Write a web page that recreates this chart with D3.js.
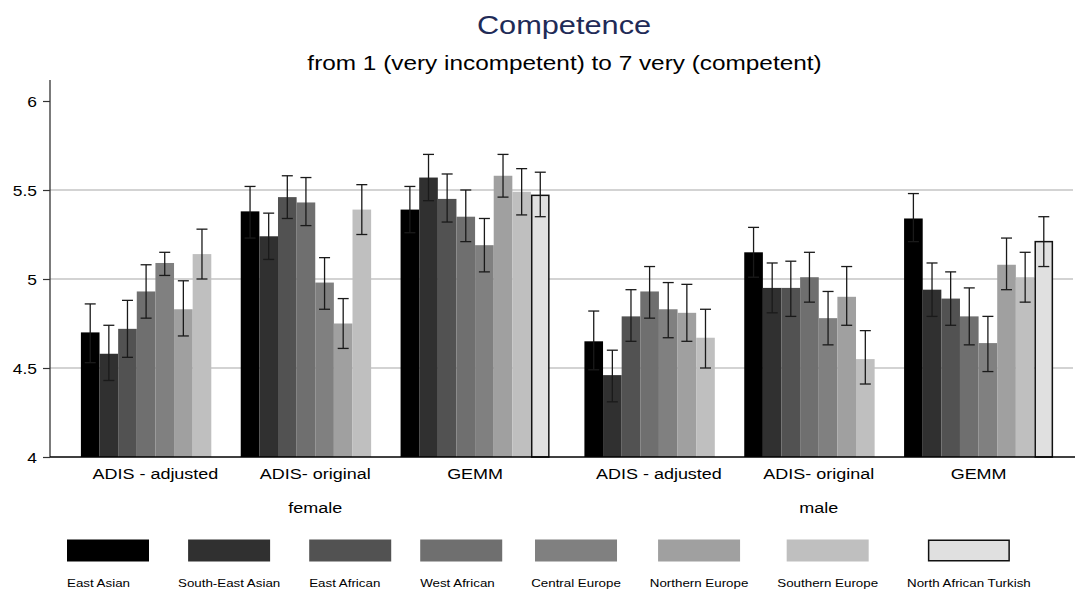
<!DOCTYPE html>
<html>
<head>
<meta charset="utf-8">
<script src="https://cdn.jsdelivr.net/npm/d3@7"></script>
<style>
  html, body { margin: 0; padding: 0; background: #fff; }
  svg { display: block; font-family: "Liberation Sans", Arial, sans-serif; }
</style>
</head>
<body>
<svg id="chart" width="1075" height="592"></svg>
<script>
// Outer grouping (sex), inner grouping (measure), and the regional series.
const sexes = ["female", "male"];
const measures = ["ADIS - adjusted", "ADIS- original", "GEMM"];
const seriesNames = ["East Asian", "South-East Asian", "East African", "West African",
                     "Central Europe", "Northern Europe", "Southern Europe", "North African Turkish"];
const seriesColors = ["#000000", "#303030", "#525252", "#6f6f6f", "#808080", "#a0a0a0", "#bfbfbf", "#e0e0e0"];

// Mean values, ordered: female adj, female orig, female GEMM, male adj, male orig, male GEMM
const meanEastAsian      = [4.70, 5.38, 5.39, 4.65, 5.15, 5.34];
const meanSouthEastAsian = [4.58, 5.24, 5.57, 4.46, 4.95, 4.94];
const meanEastAfrican    = [4.72, 5.46, 5.45, 4.79, 4.95, 4.89];
const meanWestAfrican    = [4.93, 5.43, 5.35, 4.93, 5.01, 4.79];
const meanCentralEurope  = [5.09, 4.98, 5.19, 4.83, 4.78, 4.64];
const meanNorthernEurope = [4.83, 4.75, 5.58, 4.81, 4.90, 5.08];
const meanSouthernEurope = [5.14, 5.39, 5.49, 4.67, 4.55, 5.01];
const meanNorthAfrTurk   = [null, null, 5.47, null, null, 5.21];

// Lower confidence limits
const loEastAsian      = [4.53, 5.23, 5.26, 4.49, 5.01, 5.21];
const loSouthEastAsian = [4.43, 5.11, 5.44, 4.31, 4.81, 4.79];
const loEastAfrican    = [4.56, 5.34, 5.32, 4.65, 4.79, 4.74];
const loWestAfrican    = [4.78, 5.30, 5.21, 4.78, 4.87, 4.63];
const loCentralEurope  = [5.02, 4.83, 5.04, 4.67, 4.63, 4.48];
const loNorthernEurope = [4.68, 4.61, 5.46, 4.65, 4.74, 4.94];
const loSouthernEurope = [5.00, 5.25, 5.36, 4.50, 4.41, 4.87];
const loNorthAfrTurk   = [null, null, 5.35, null, null, 5.07];

// Upper confidence limits
const hiEastAsian      = [4.86, 5.52, 5.52, 4.82, 5.29, 5.48];
const hiSouthEastAsian = [4.74, 5.37, 5.70, 4.60, 5.09, 5.09];
const hiEastAfrican    = [4.88, 5.58, 5.59, 4.94, 5.10, 5.04];
const hiWestAfrican    = [5.08, 5.57, 5.50, 5.07, 5.15, 4.95];
const hiCentralEurope  = [5.15, 5.12, 5.34, 4.98, 4.93, 4.79];
const hiNorthernEurope = [4.99, 4.89, 5.70, 4.97, 5.07, 5.23];
const hiSouthernEurope = [5.28, 5.53, 5.62, 4.83, 4.71, 5.15];
const hiNorthAfrTurk   = [null, null, 5.60, null, null, 5.35];

const yTicks = [4, 4.5, 5, 5.5, 6];
const yGrid = [4.5, 5, 5.5];

const means = [meanEastAsian, meanSouthEastAsian, meanEastAfrican, meanWestAfrican,
               meanCentralEurope, meanNorthernEurope, meanSouthernEurope, meanNorthAfrTurk];
const los = [loEastAsian, loSouthEastAsian, loEastAfrican, loWestAfrican,
             loCentralEurope, loNorthernEurope, loSouthernEurope, loNorthAfrTurk];
const his = [hiEastAsian, hiSouthEastAsian, hiEastAfrican, hiWestAfrican,
             hiCentralEurope, hiNorthernEurope, hiSouthernEurope, hiNorthAfrTurk];

// Flatten into records for drawing
const records = [];
seriesNames.forEach((name, si) => {
  sexes.forEach((sex, xi) => {
    measures.forEach((m, mi) => {
      const k = xi * measures.length + mi;
      if (means[si][k] != null) {
        records.push({ series: name, si, sex, measure: m, mean: means[si][k], lo: los[si][k], hi: his[si][k] });
      }
    });
  });
});

const svg = d3.select("#chart");
const plotLeft = 50, plotRight = 1075, plotBottom = 457, plotTop = 80;
const SX = 1.16; // horizontal widening of the lettering

// Text helper: places a horizontally widened label at (x, y)
function label(parent, x, y, str, size, anchor, fill) {
  return parent.append("text")
    .attr("transform", `translate(${x},${y}) scale(${SX},1)`)
    .attr("text-anchor", anchor || "start")
    .attr("font-size", size)
    .attr("fill", fill || "#000")
    .text(str);
}

const y = d3.scaleLinear().domain([4, 6.118]).range([plotBottom, plotTop]);
const xSex = d3.scaleBand().domain(sexes).range([75.5, 1058.5]).paddingInner(0.0477).paddingOuter(0);
const xMeasure = d3.scaleBand().domain(measures).range([0, xSex.bandwidth()]).paddingInner(0.0677).paddingOuter(0.0338);
const xSeries = d3.scaleBand().domain(seriesNames).range([0, xMeasure.bandwidth()]).padding(0);

// Titles
label(svg, 564, 34, "Competence", 26.5, "middle", "#1f2b57");
label(svg, 564.5, 70, "from 1 (very incompetent) to 7 very (competent)", 21, "middle");

// Gridlines
svg.append("g").selectAll("line").data(yGrid).join("line")
  .attr("x1", plotLeft).attr("x2", plotRight - 2)
  .attr("y1", d => y(d)).attr("y2", d => y(d))
  .attr("stroke", "#a8a8a8").attr("stroke-width", 1.2);

// Bars
const barX = d => xSex(d.sex) + xMeasure(d.measure) + xSeries(d.series);
svg.append("g").selectAll("rect").data(records).join("rect")
  .attr("x", d => barX(d) + (d.si === 7 ? 0.75 : 0))
  .attr("y", d => y(d.mean))
  .attr("width", d => xSeries.bandwidth() - (d.si === 7 ? 1.5 : 0))
  .attr("height", d => y(4) - y(d.mean))
  .attr("fill", d => seriesColors[d.si])
  .attr("stroke", d => d.si === 7 ? "#111" : "none")
  .attr("stroke-width", 1.5);

// Error bars
const eb = svg.append("g").attr("stroke", "#1a1a1a").attr("stroke-width", 1.3).attr("fill", "none");
const cx = d => barX(d) + xSeries.bandwidth() / 2;
eb.selectAll("line.v").data(records).join("line").attr("class", "v")
  .attr("x1", cx).attr("x2", cx).attr("y1", d => y(d.lo)).attr("y2", d => y(d.hi));
eb.selectAll("line.t").data(records).join("line").attr("class", "t")
  .attr("x1", d => cx(d) - 5.5).attr("x2", d => cx(d) + 5.5).attr("y1", d => y(d.hi)).attr("y2", d => y(d.hi));
eb.selectAll("line.b").data(records).join("line").attr("class", "b")
  .attr("x1", d => cx(d) - 5.5).attr("x2", d => cx(d) + 5.5).attr("y1", d => y(d.lo)).attr("y2", d => y(d.lo));

// Y axis
const yAxis = d3.axisLeft(y).tickValues(yTicks).tickSize(7).tickFormat(() => "");
const gy = svg.append("g").attr("transform", `translate(${plotLeft},0)`).call(yAxis);
gy.select(".domain").attr("d", `M0,${plotTop}V${plotBottom}`).attr("stroke", "#333").attr("stroke-width", 1.3);
gy.selectAll(".tick line").attr("stroke", "#333").attr("stroke-width", 1.2);
const fmt = d3.format("~g");
yTicks.forEach(t => label(svg, 37, y(t) + 5.5, fmt(t), 15, "end"));

// Baseline
svg.append("line").attr("x1", plotLeft).attr("x2", plotRight)
  .attr("y1", y(4)).attr("y2", y(4)).attr("stroke", "#000").attr("stroke-width", 1.5);

// Category labels
const catG = svg.append("g");
sexes.forEach(s => measures.forEach(m => {
  label(catG, xSex(s) + xMeasure(m) + xMeasure.bandwidth() / 2, 479, m, 15.5, "middle");
}));
sexes.forEach(s => label(catG, xSex(s) + xSex.bandwidth() / 2, 512.5, s, 15.5, "middle"));

// Legend: columns sized by the wider of key and label
const legend = svg.append("g");
const swW = 82, swH = 22, gap = 29, swY = 539.5, txtY = 587;
let xPos = 67;
seriesNames.forEach((name, i) => {
  const t = label(legend, 0, txtY, name, 11.5, "start");
  const tw = t.node().getComputedTextLength() * SX;
  const colW = Math.max(swW, tw);
  const swX = xPos + (colW - swW) / 2;
  legend.append("rect").attr("x", swX + (i === 7 ? 0.75 : 0)).attr("y", swY + (i === 7 ? 0.75 : 0))
    .attr("width", swW - (i === 7 ? 1.5 : 0)).attr("height", swH - (i === 7 ? 1.5 : 0))
    .attr("fill", seriesColors[i]).attr("stroke", i === 7 ? "#111" : "none").attr("stroke-width", 1.5);
  const tx = tw > swW ? xPos : swX;
  t.attr("transform", `translate(${tx},${txtY}) scale(${SX},1)`);
  xPos += colW + gap;
});
</script>
</body>
</html>
